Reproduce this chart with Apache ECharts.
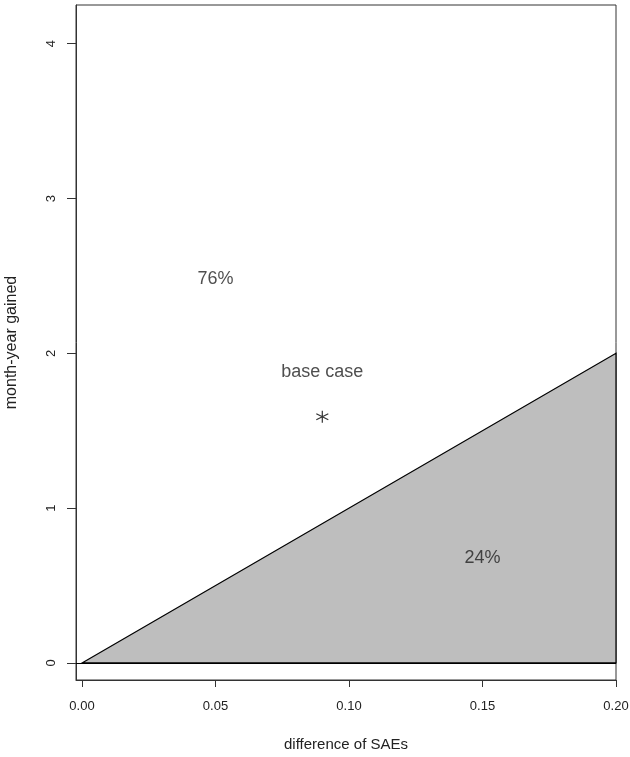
<!DOCTYPE html>
<html>
<head>
<meta charset="utf-8">
<script src="https://cdn.jsdelivr.net/npm/echarts@6/dist/echarts.min.js"></script>
<style>
  html, body { margin: 0; padding: 0; background: #fff; }
  #chart { width: 630px; height: 757px; }
</style>
</head>
<body>
<div id="chart"></div>
<script>
// Break-even region: months gained vs difference in SAE rates
const xTicks = [0.00, 0.05, 0.10, 0.15, 0.20];
const yTicks = [0, 1, 2, 3, 4];
const regionPolygon = [[0, 0], [0.20, 2], [0.20, 0]];
const baseCase = [[0.09, 1.59]];
const annotations = [
  { text: '76%', x: 0.05, y: 2.48 },
  { text: 'base case', x: 0.09, y: 1.88 },
  { text: '24%', x: 0.15, y: 0.68 }
];

const FONT = '"Liberation Sans", Arial, sans-serif';
const chart = echarts.init(document.getElementById('chart'));

chart.setOption({
  backgroundColor: '#fff',
  animation: false,
  grid: {
    left: 76, right: 14, top: 5, bottom: 77,
    outerBoundsMode: 'none',
    show: true, borderColor: '#333', borderWidth: 1, backgroundColor: 'transparent'
  },
  xAxis: {
    type: 'value',
    min: -0.00225, max: 0.20,
    name: 'difference of SAEs',
    nameLocation: 'middle', nameGap: 57,
    nameTextStyle: { fontFamily: FONT, fontSize: 15, color: '#222' },
    splitLine: { show: false },
    axisLine: { show: true, onZero: false, lineStyle: { color: '#333' } },
    axisTick: { show: true, inside: false, length: 7, customValues: xTicks, lineStyle: { color: '#333' } },
    axisLabel: {
      customValues: xTicks, margin: 20,
      formatter: v => v.toFixed(2),
      fontFamily: FONT, fontSize: 13, color: '#222'
    }
  },
  yAxis: {
    type: 'value',
    min: -0.11, max: 4.25,
    name: 'month-year gained',
    nameLocation: 'middle', nameGap: 56, nameRotate: 90,
    nameTextStyle: { fontFamily: FONT, fontSize: 16, color: '#222' },
    splitLine: { show: false },
    axisLine: { show: true, onZero: false, lineStyle: { color: '#333' } },
    axisTick: { show: true, inside: false, length: 9, customValues: yTicks, lineStyle: { color: '#333' } },
    axisLabel: {
      customValues: yTicks, rotate: 90, margin: 18,
      fontFamily: FONT, fontSize: 13, color: '#222'
    }
  },
  series: [
    {
      // shaded region below the break-even line
      type: 'custom',
      data: regionPolygon,
      renderItem: function (params, api) {
        if (params.dataIndex !== 0) return null;
        const pts = regionPolygon.map(p => api.coord(p));
        return {
          type: 'polygon',
          shape: { points: pts },
          style: { fill: '#bebebe', stroke: '#000', lineWidth: 1.2 }
        };
      },
      z: 1
    },
    {
      // zero reference line
      type: 'line',
      data: [],
      markLine: {
        silent: true,
        symbol: 'none',
        label: { show: false },
        lineStyle: { color: '#000', width: 1.2, type: 'solid' },
        data: [{ yAxis: 0 }]
      },
      z: 2
    },
    {
      type: 'scatter',
      data: baseCase,
      symbol: 'path://M0,-1L0,1M-0.87,-0.5L0.87,0.5M-0.87,0.5L0.87,-0.5',
      symbolSize: 12,
      itemStyle: { color: 'none', borderColor: '#000', borderWidth: 1.2 },
      z: 3
    },
    {
      type: 'scatter',
      data: annotations.map(a => ({ value: [a.x, a.y], name: a.text })),
      symbol: 'circle',
      symbolSize: 1,
      itemStyle: { color: 'rgba(0,0,0,0)' },
      label: {
        show: true, position: 'inside',
        formatter: p => p.name,
        fontFamily: FONT, fontSize: 18, color: '#222'
      },
      z: 4
    }
  ]
});
</script>
</body>
</html>
